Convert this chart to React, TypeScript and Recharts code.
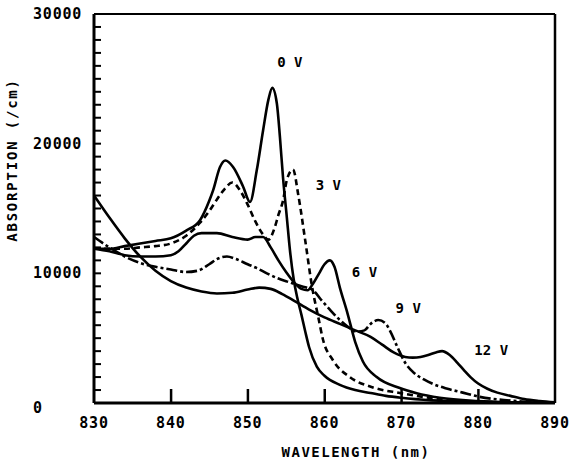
import React from 'react';
import { LineChart, Line, XAxis, YAxis, ReferenceLine, ReferenceDot } from 'recharts';

// wavelength (nm) / absorption (/cm), one pair per bias voltage
const wl0 = [830, 832, 834, 836, 838, 840, 842, 843.8, 845, 845.5, 846.4, 847.1, 848.1, 849.4, 850.3, 851.2, 852, 852.7, 853.2, 853.8, 854.2, 854.6, 855.1, 855.5, 856, 856.5, 857, 857.5, 858, 859, 860, 862, 864, 866, 868, 870, 874, 880, 890];
const abs0 = [11900, 11900, 12100, 12300, 12500, 12700, 13300, 14100, 15600, 16400, 18200, 18700, 18200, 16700, 15500, 18000, 21000, 23400, 24300, 23100, 20500, 17400, 14300, 11800, 9500, 8000, 6800, 5500, 4300, 2800, 2100, 1400, 1000, 770, 550, 400, 200, 80, 0];

const wl3 = [830, 832, 834, 836, 838, 840, 842, 843.8, 845, 846, 847, 848, 849, 850, 851, 852, 852.7, 853.5, 854, 854.6, 855.1, 855.9, 856.6, 857.5, 858.4, 859.2, 859.8, 861.1, 863.3, 866.3, 869.8, 875, 880, 890];
const abs3 = [11900, 11900, 11900, 12000, 12100, 12300, 12900, 13900, 14800, 15700, 16500, 17000, 16400, 15300, 14000, 13000, 12600, 13500, 14500, 15600, 17200, 18000, 16000, 12500, 8900, 6600, 4900, 3300, 2000, 1200, 770, 300, 100, 0];

const wl6 = [830, 832, 834, 836, 838, 840, 841, 842, 843, 844, 846, 848, 850, 851, 852, 853, 854, 855, 856.2, 857, 857.8, 858.5, 859.3, 860, 860.7, 861.3, 862, 863, 864, 865, 866.8, 869.8, 872, 875, 880, 885, 890];
const abs6 = [11900, 11700, 11400, 11300, 11300, 11400, 11700, 12300, 12900, 13100, 13100, 12800, 12600, 12800, 12800, 12000, 11000, 10100, 9200, 8800, 8700, 9200, 10000, 10700, 11000, 10500, 8900, 6900, 4700, 3200, 2000, 1150, 750, 400, 150, 50, 0];

const wl9 = [830, 832, 834, 836, 838, 840, 842, 843.5, 845, 846, 847.3, 848.5, 850, 851.2, 852.5, 854, 855.5, 857, 858.5, 859.5, 860.7, 862, 863, 864.2, 865.2, 866, 867, 868, 868.5, 869.5, 870.5, 871.5, 873, 874, 876, 878, 880, 885, 890];
const abs9 = [12800, 12000, 11300, 10800, 10500, 10300, 10100, 10200, 10700, 11100, 11300, 11100, 10700, 10400, 10000, 9600, 9300, 9000, 8700, 8000, 7200, 6400, 5900, 5500, 5600, 6100, 6400, 6100, 5600, 4300, 3100, 2400, 1800, 1500, 1100, 800, 500, 150, 0];

const wl12 = [830, 832, 834, 836, 838, 840, 842, 844, 846, 848, 850, 851.5, 853, 854.5, 856, 858, 860, 862, 864, 866, 867.5, 869, 870.5, 871.5, 872.5, 873.5, 874.5, 875.3, 876.3, 877.3, 878.2, 879, 880, 881.2, 882.5, 884.2, 886, 888, 890];
const abs12 = [16000, 14300, 12700, 11300, 10200, 9400, 8900, 8600, 8450, 8500, 8750, 8900, 8800, 8400, 7900, 7200, 6600, 6100, 5600, 5100, 4500, 3900, 3550, 3500, 3550, 3700, 3900, 4000, 3700, 3100, 2500, 2000, 1500, 1100, 800, 550, 300, 150, 50];

const LABEL_TEXT = ['0 V', '3 V', '6 V', '9 V', '12 V'];
const LABEL_WL = [855.5, 860.5, 865.2, 870.9, 881.7];
const LABEL_ABS = [26300, 16800, 10100, 7300, 4100];

const X_TICKS = [830, 840, 850, 860, 870, 880, 890];
const X_INNER_TICKS = [840, 850, 860, 870, 880];
const Y_TICKS = [0, 10000, 20000, 30000];
const Y_MINOR = [1000, 2000, 3000, 4000, 5000, 6000, 7000, 8000, 9000, 10000, 11000, 12000, 13000, 14000, 15000, 16000, 17000, 18000, 19000, 20000, 21000, 22000, 23000, 24000, 25000, 26000, 27000, 28000, 29000];

const toRows = (xs: number[], ys: number[]) => xs.map((x, i) => ({ x, y: ys[i] }));

const series = [
  { name: '0 V', data: toRows(wl0, abs0), dash: undefined },
  { name: '3 V', data: toRows(wl3, abs3), dash: '6 4' },
  { name: '6 V', data: toRows(wl6, abs6), dash: undefined },
  { name: '9 V', data: toRows(wl9, abs9), dash: '11 3 3 3' },
  { name: '12 V', data: toRows(wl12, abs12), dash: undefined },
];

const FONT = '"DejaVu Sans Mono", monospace';
const PLOT_BOTTOM = 403;

const YTick = (props: any) => {
  const { y, payload } = props;
  const v = payload.value;
  return (
    <text x={33} y={v === 0 ? y + 5 : y} dominantBaseline="central" textAnchor="start"
      fontFamily={FONT} fontWeight="bold" fontSize={15} letterSpacing={0.8} fill="#000">
      {v}
    </text>
  );
};

const XTick = (props: any) => {
  const { x, payload } = props;
  return (
    <text x={x} y={PLOT_BOTTOM + 20} dominantBaseline="central" textAnchor="middle"
      fontFamily={FONT} fontWeight="bold" fontSize={15} letterSpacing={0.8} fill="#000">
      {payload.value}
    </text>
  );
};

export default function App() {
  return (
    <div style={{ position: 'absolute', left: 0, top: 0, background: '#fff' }}>
      <LineChart width={580} height={468} margin={{ top: 14, right: 25, bottom: 0, left: 0 }}>
        <XAxis type="number" dataKey="x" domain={[830, 890]} ticks={X_TICKS} height={65}
          tickLine={false} tick={<XTick />} axisLine={{ stroke: '#000', strokeWidth: 3 }}
          allowDataOverflow interval={0} />
        <YAxis type="number" dataKey="y" domain={[0, 30000]} ticks={Y_TICKS} width={94}
          tickLine={false} tick={<YTick />} axisLine={{ stroke: '#000', strokeWidth: 3 }}
          allowDataOverflow interval={0} />
        <ReferenceLine y={30000} stroke="#000" strokeWidth={2} />
        <ReferenceLine x={890} stroke="#000" strokeWidth={2.5} />
        {Y_MINOR.map((v) => (
          <ReferenceDot key={'y' + v} x={830} y={v} r={0} ifOverflow="visible"
            shape={(p: any) => (
              <rect x={p.cx} y={p.cy - 1} width={7} height={2} fill="#000" />
            )} />
        ))}
        {X_INNER_TICKS.map((v) => (
          <ReferenceDot key={'x' + v} x={v} y={0} r={0} ifOverflow="visible"
            shape={(p: any) => (
              <rect x={p.cx - 1} y={p.cy - 14} width={2.5} height={14} fill="#000" />
            )} />
        ))}
        {series.map((s) => (
          <Line key={s.name} data={s.data} dataKey="y" type="monotone" stroke="#000"
            strokeWidth={2.6} strokeDasharray={s.dash} dot={false} activeDot={false}
            isAnimationActive={false} />
        ))}
        {LABEL_TEXT.map((t, i) => (
          <ReferenceDot key={t} x={LABEL_WL[i]} y={LABEL_ABS[i]} r={0}
            shape={(p: any) => (
              <text x={p.cx} y={p.cy} textAnchor="middle" dominantBaseline="central"
                fontFamily={FONT} fontWeight="bold" fontSize={14} fill="#000">{t}</text>
            )} />
        ))}
        <text x={12} y={160} transform="rotate(-90 12 160)" textAnchor="middle" dominantBaseline="central"
          fontFamily={FONT} fontWeight="bold" fontSize={14} letterSpacing={1.8} fill="#000">
          ABSORPTION (/cm)
        </text>
        <text x={356} y={452} textAnchor="middle" dominantBaseline="central"
          fontFamily={FONT} fontWeight="bold" fontSize={14} letterSpacing={1.5} fill="#000">
          WAVELENGTH (nm)
        </text>
      </LineChart>
    </div>
  );
}
